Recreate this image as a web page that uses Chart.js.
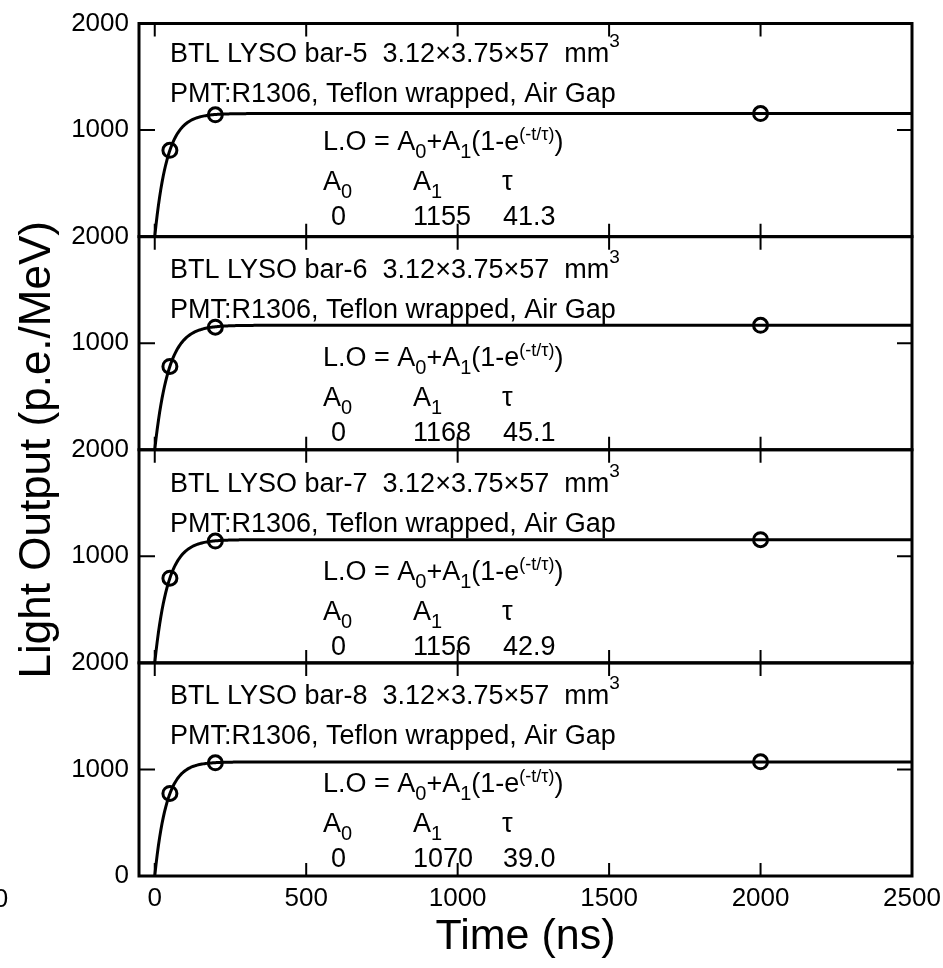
<!DOCTYPE html>
<html>
<head>
<meta charset="utf-8">
<script src="https://cdn.jsdelivr.net/npm/chart.js@4"></script>
<style>
  html, body { margin: 0; padding: 0; background: #fff; }
  #wrap { width: 943px; height: 968px; position: relative; }
</style>
</head>
<body>
<div id="wrap"><canvas id="lo"></canvas></div>
<script>
// measurement times (ns)
const times = [50, 200, 2000];
const barNames = ['bar-5', 'bar-6', 'bar-7', 'bar-8'];
// measured light output (p.e./MeV) for each bar
const lightBar5 = [810, 1143, 1155];
const lightBar6 = [782, 1150, 1168];
const lightBar7 = [795, 1143, 1156];
const lightBar8 = [775, 1062, 1072];
// fit L.O = A0 + A1(1 - exp(-t/tau))
const fitA0 = [0, 0, 0, 0];
const fitA1 = [1155, 1168, 1156, 1070];
const fitTau = [41.3, 45.1, 42.9, 39.0];
const xTicks = [0, 500, 1000, 1500, 2000, 2500];
const yTicks = [0, 1000, 2000];

const FONT = '"Liberation Sans", Arial, sans-serif';
const lightRows = [lightBar5, lightBar6, lightBar7, lightBar8];
const panelIds = ['y5', 'y6', 'y7', 'y8'];
// small vertical nudge of the text block in each panel
const textShift = [0, 3, 4, 3];

// sample times for the fitted curves
const fitTimes = [];
for (let t = 0; t <= 400; t += 4) fitTimes.push(t);
fitTimes.push(1000, 2500);

function fitCurve(i) {
    return fitTimes.map(t => ({ x: t, y: fitA0[i] + fitA1[i] * (1 - Math.exp(-t / fitTau[i])) }));
}

const datasets = [];
panelIds.forEach((id, i) => {
    datasets.push({
        label: 'fit ' + barNames[i],
        yAxisID: id,
        data: fitCurve(i),
        showLine: true,
        borderColor: '#000',
        borderWidth: 3,
        pointRadius: 0,
        tension: 0,
    });
    datasets.push({
        label: barNames[i],
        yAxisID: id,
        data: times.map((t, k) => ({ x: t, y: lightRows[i][k] })),
        showLine: false,
        pointStyle: 'circle',
        pointRadius: 7,
        pointBorderWidth: 3,
        pointBorderColor: '#000',
        pointBackgroundColor: 'rgba(0,0,0,0)',
    });
});

const tickFont = { family: FONT, size: 26 };
const scales = {
    x: {
        type: 'linear',
        min: -52,
        max: 2500,
        afterBuildTicks: s => { s.ticks = xTicks.map(v => ({ value: v })); },
        afterFit: s => { s.height = 92; s.paddingLeft = 0; s.paddingRight = 0; },
        grid: { display: false, drawTicks: false },
        border: { display: false },
        ticks: { padding: 7, color: '#000', maxRotation: 0, font: tickFont, callback: v => String(v) },
        title: {
            display: true,
            text: 'Time (ns)',
            color: '#000',
            padding: { top: 0, bottom: 5 },
            font: { family: FONT, size: 43 },
        },
    },
};
// stacked axes: the last one defined sits on top
for (let i = panelIds.length - 1; i >= 0; i--) {
    scales[panelIds[i]] = {
        type: 'linear',
        position: 'left',
        stack: 'panels',
        stackWeight: 1,
        min: 0,
        max: 2000,
        afterBuildTicks: s => {
            s.ticks = yTicks.filter(v => i === panelIds.length - 1 || v > 0).map(v => ({ value: v }));
        },
        afterFit: s => { s.width = 139; s.paddingTop = 0; s.paddingBottom = 0; },
        grid: { display: false, drawTicks: false },
        border: { display: false },
        ticks: { padding: 10, color: '#000', font: tickFont, callback: v => String(v) },
    };
}

// text runs: n = normal, sub / sup = small shifted, ex = exponent
function drawRuns(ctx, x, y, runs) {
    for (const [text, kind] of runs) {
        let size = 27, dy = 0;
        if (kind === 'sub') { size = 20; dy = 8; }
        if (kind === 'sup') { size = 19; dy = -15; }
        if (kind === 'ex') { size = 18; dy = -10; }
        ctx.font = size + 'px ' + FONT;
        ctx.fillText(text, x, y + dy);
        x += ctx.measureText(text).width;
    }
}

const panelFrame = {
    id: 'panelFrame',
    afterDraw(chart) {
        const { ctx, chartArea, scales } = chart;
        const xs = scales.x;
        ctx.save();
        ctx.strokeStyle = '#000';
        ctx.fillStyle = '#000';
        panelIds.forEach((id, i) => {
            const ys = scales[id];
            const top = ys.getPixelForValue(2000);
            const bottom = ys.getPixelForValue(0);
            const mid = ys.getPixelForValue(1000);
            ctx.lineWidth = 3;
            ctx.strokeRect(chartArea.left, top, chartArea.right - chartArea.left, bottom - top);

            // inward ticks
            ctx.lineWidth = 2;
            ctx.beginPath();
            xTicks.forEach(v => {
                const px = xs.getPixelForValue(v);
                ctx.moveTo(px, top); ctx.lineTo(px, top + 13);
                ctx.moveTo(px, bottom); ctx.lineTo(px, bottom - 13);
            });
            ctx.moveTo(chartArea.left, mid); ctx.lineTo(chartArea.left + 16, mid);
            ctx.moveTo(chartArea.right, mid); ctx.lineTo(chartArea.right - 15, mid);
            ctx.stroke();

            // panel labels
            const tx = chartArea.left + 31;
            const fx = chartArea.left + 184;
            const ty = top + textShift[i];
            ctx.textAlign = 'left';
            ctx.textBaseline = 'alphabetic';
            drawRuns(ctx, tx, ty + 38, [['BTL LYSO ' + barNames[i] + '  3.12\u00d73.75\u00d757  mm', 'n'], ['3', 'sup']]);
            drawRuns(ctx, tx, ty + 78, [['PMT:R1306, Teflon wrapped, Air Gap', 'n']]);
            drawRuns(ctx, fx, ty + 126, [['L.O = A', 'n'], ['0', 'sub'], ['+A', 'n'], ['1', 'sub'], ['(1-e', 'n'], ['(-t/\u03c4)', 'ex'], [')', 'n']]);
            drawRuns(ctx, fx, ty + 166, [['A', 'n'], ['0', 'sub']]);
            drawRuns(ctx, fx + 90, ty + 166, [['A', 'n'], ['1', 'sub']]);
            drawRuns(ctx, fx + 179, ty + 166, [['\u03c4', 'n']]);
            drawRuns(ctx, fx + 8, ty + 201, [[String(fitA0[i]), 'n']]);
            drawRuns(ctx, fx + 90, ty + 201, [[String(fitA1[i]), 'n']]);
            drawRuns(ctx, fx + 180, ty + 201, [[fitTau[i].toFixed(1), 'n']]);
        });

        // vertical axis title
        ctx.font = '44px ' + FONT;
        ctx.textAlign = 'center';
        ctx.textBaseline = 'middle';
        ctx.save();
        ctx.translate(38, (chartArea.top + chartArea.bottom) / 2);
        ctx.rotate(-Math.PI / 2);
        ctx.fillText('Light Output (p.e./MeV)', 0, 0);
        ctx.restore();

        // stray zero at the lower left edge
        ctx.font = '26px ' + FONT;
        ctx.fillText('0', 1, 900);
        ctx.restore();
    },
};

new Chart(document.getElementById('lo'), {
    type: 'scatter',
    data: { datasets },
    options: {
        responsive: true,
        maintainAspectRatio: false,
        animation: false,
        layout: { padding: { top: 23.5, right: 31, bottom: 0, left: 0 } },
        plugins: {
            legend: { display: false },
            tooltip: { enabled: false },
            title: { display: false },
        },
        scales,
    },
    plugins: [panelFrame],
});
</script>
</body>
</html>
